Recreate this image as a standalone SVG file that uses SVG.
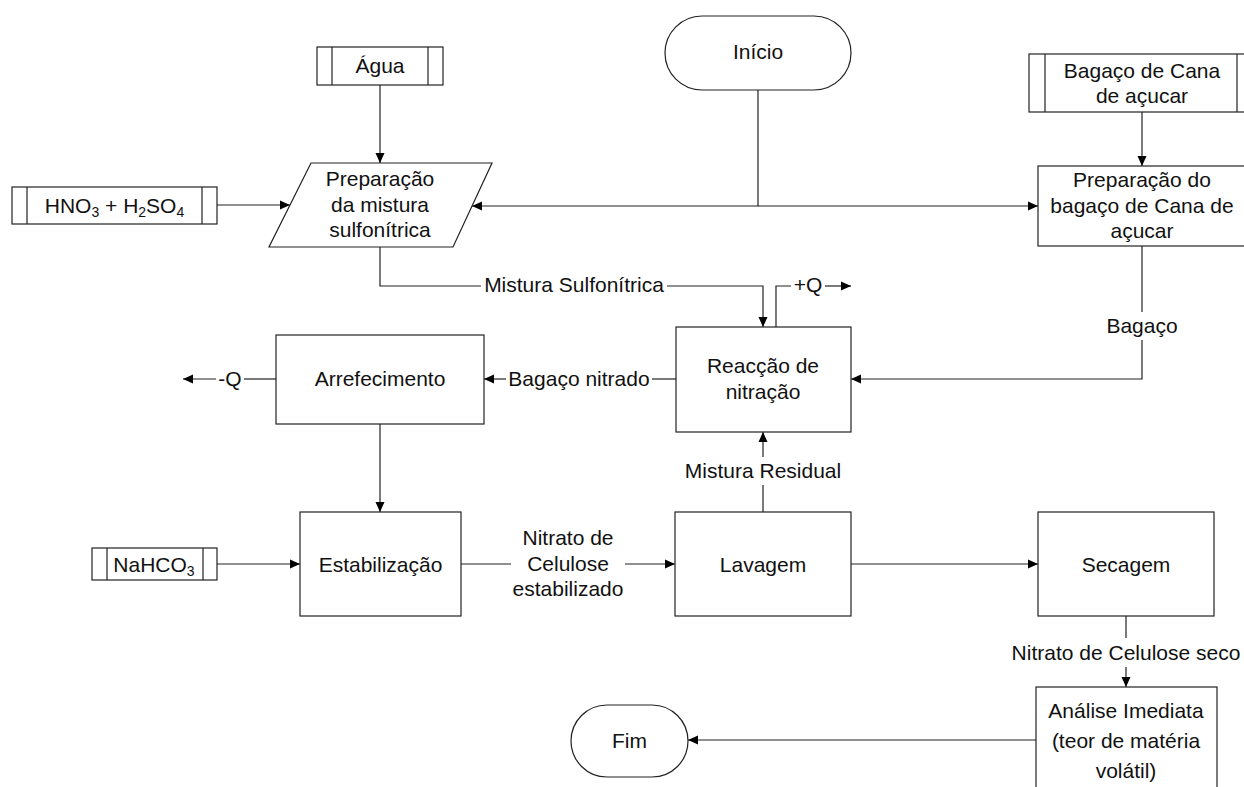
<svg xmlns="http://www.w3.org/2000/svg" width="1244" height="787" viewBox="0 0 1244 787">
<defs>
<marker id="ah" markerWidth="11" markerHeight="10" refX="10" refY="5" orient="auto" markerUnits="userSpaceOnUse"><path d="M0,0.5 L10,5 L0,9.5 Z" fill="#000"/></marker>
<style>
.s{fill:#fff;stroke:#222;stroke-width:1.2}
.c{fill:none;stroke:#222;stroke-width:1.2}
.t{font-family:"Liberation Sans",Arial,sans-serif;font-size:21px;fill:#111;text-anchor:middle}
.sub{font-size:14px}
</style>
</defs>
<rect width="1244" height="787" fill="#fff"/>

<g id="connectors">
<path class="c" d="M380,85 V163" marker-end="url(#ah)"/>
<path class="c" d="M217,205 H290" marker-end="url(#ah)"/>
<path class="c" d="M758,90 V206 H472" marker-end="url(#ah)"/>
<path class="c" d="M758,206 H1038" marker-end="url(#ah)"/>
<path class="c" d="M1142,112 V166" marker-end="url(#ah)"/>
<path class="c" d="M380,247 V286 H481"/>
<path class="c" d="M667,286 H763 V327" marker-end="url(#ah)"/>
<text class="t" x="574" y="292">Mistura Sulfonítrica</text>
<path class="c" d="M776,327 V286 H791"/>
<path class="c" d="M825,286 H851" marker-end="url(#ah)"/>
<text class="t" x="808" y="292">+Q</text>
<path class="c" d="M1142,246 V312"/>
<path class="c" d="M1142,340 V379 H851" marker-end="url(#ah)"/>
<text class="t" x="1142" y="333">Bagaço</text>
<path class="c" d="M676,379 H652"/>
<path class="c" d="M506,379 H484" marker-end="url(#ah)"/>
<text class="t" x="579" y="386">Bagaço nitrado</text>
<path class="c" d="M276,379 H244"/>
<path class="c" d="M216,379 H183" marker-end="url(#ah)"/>
<text class="t" x="230" y="386">-Q</text>
<path class="c" d="M380,424 V512" marker-end="url(#ah)"/>
<path class="c" d="M217,564 H300" marker-end="url(#ah)"/>
<path class="c" d="M461,564 H511"/>
<path class="c" d="M625,564 H675" marker-end="url(#ah)"/>
<text class="t" x="568" y="545">Nitrato de</text>
<text class="t" x="568" y="571">Celulose</text>
<text class="t" x="568" y="596">estabilizado</text>
<path class="c" d="M763,512 V485"/>
<path class="c" d="M763,457 V432" marker-end="url(#ah)"/>
<text class="t" x="763" y="478">Mistura Residual</text>
<path class="c" d="M851,564 H1038" marker-end="url(#ah)"/>
<path class="c" d="M1126,616 V638"/>
<path class="c" d="M1126,667 V687" marker-end="url(#ah)"/>
<text class="t" x="1126" y="660">Nitrato de Celulose seco</text>
<path class="c" d="M1036,740 H688" marker-end="url(#ah)"/>
</g>

<g id="agua">
<rect class="s" x="317" y="47" width="126" height="38"/>
<path class="c" d="M332,47 V85 M428,47 V85"/>
<text class="t" x="380" y="73">Água</text>
</g>

<g id="acidos">
<rect class="s" x="12" y="187" width="205" height="37"/>
<path class="c" d="M27,187 V224 M202,187 V224"/>
<text class="t" x="114.5" y="213">HNO<tspan class="sub" dy="4">3</tspan><tspan dy="-4"> + H</tspan><tspan class="sub" dy="4">2</tspan><tspan dy="-4">SO</tspan><tspan class="sub" dy="4">4</tspan></text>
</g>

<g id="prep-mistura">
<path class="s" d="M311,163 H492 L453,247 H269 Z"/>
<text class="t" x="380" y="186">Preparação</text>
<text class="t" x="380" y="212">da mistura</text>
<text class="t" x="380" y="237">sulfonítrica</text>
</g>

<g id="inicio">
<rect class="s" x="665" y="16" width="186" height="74" rx="37" ry="37"/>
<text class="t" x="758" y="59">Início</text>
</g>

<g id="bagaco-cana">
<rect class="s" x="1029" y="54" width="225" height="58"/>
<path class="c" d="M1045,54 V112 M1237,54 V112"/>
<text class="t" x="1142" y="78">Bagaço de Cana</text>
<text class="t" x="1142" y="103">de açucar</text>
</g>

<g id="prep-bagaco">
<rect class="s" x="1038" y="166" width="208" height="80"/>
<text class="t" x="1142" y="187">Preparação do</text>
<text class="t" x="1142" y="213">bagaço de Cana de</text>
<text class="t" x="1142" y="238">açucar</text>
</g>

<g id="reaccao">
<rect class="s" x="676" y="327" width="175" height="105"/>
<text class="t" x="763" y="373">Reacção de</text>
<text class="t" x="763" y="399">nitração</text>
</g>

<g id="arrefecimento">
<rect class="s" x="276" y="335" width="208" height="89"/>
<text class="t" x="380" y="386">Arrefecimento</text>
</g>

<g id="nahco3">
<rect class="s" x="92" y="548" width="125" height="32"/>
<path class="c" d="M107,548 V580 M203,548 V580"/>
<text class="t" x="154" y="572">NaHCO<tspan class="sub" dy="4">3</tspan></text>
</g>

<g id="estabilizacao">
<rect class="s" x="300" y="512" width="161" height="104"/>
<text class="t" x="380.5" y="572">Estabilização</text>
</g>

<g id="lavagem">
<rect class="s" x="675" y="512" width="176" height="104"/>
<text class="t" x="763" y="572">Lavagem</text>
</g>

<g id="secagem">
<rect class="s" x="1038" y="512" width="176" height="104"/>
<text class="t" x="1126" y="572">Secagem</text>
</g>

<g id="analise">
<rect class="s" x="1036" y="687" width="181" height="120"/>
<text class="t" x="1126" y="718">Análise Imediata</text>
<text class="t" x="1126" y="748">(teor de matéria</text>
<text class="t" x="1126" y="778">volátil)</text>
</g>

<g id="fim">
<rect class="s" x="571" y="705" width="117" height="72" rx="36" ry="36"/>
<text class="t" x="629.5" y="748">Fim</text>
</g>
</svg>
